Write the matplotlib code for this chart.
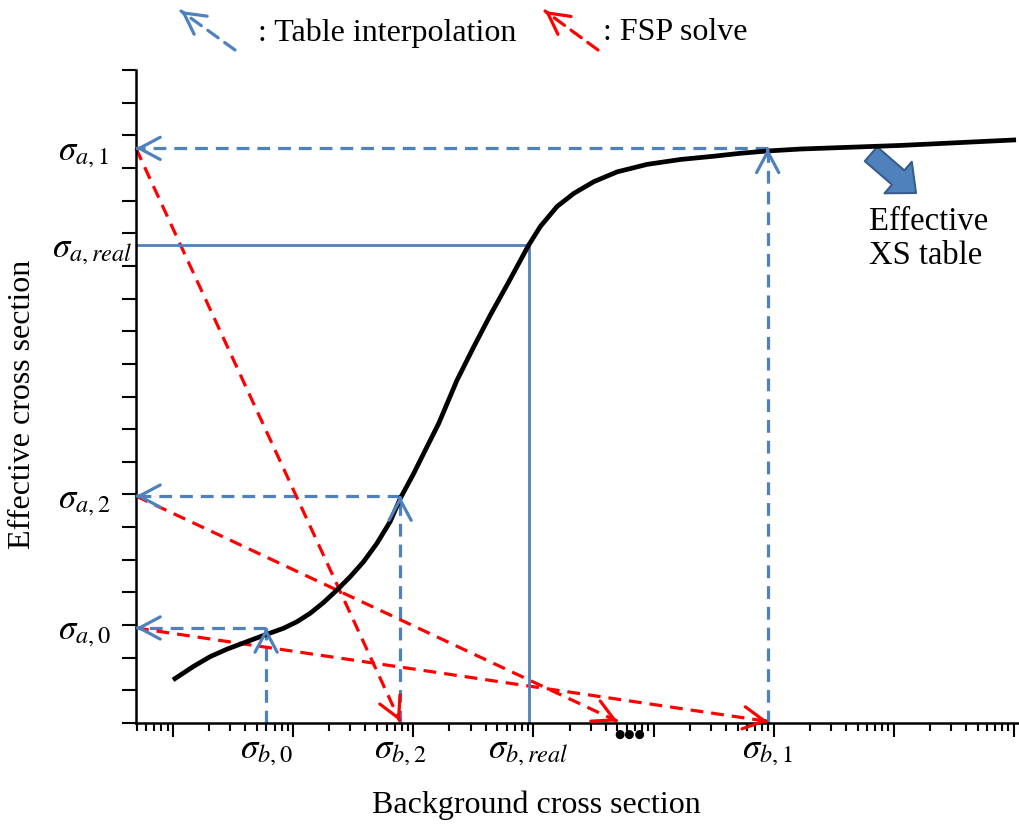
import numpy as np
import matplotlib.pyplot as plt
from matplotlib.ticker import LogLocator, NullFormatter, MultipleLocator

plt.rcParams['font.family'] = ['Liberation Serif', 'DejaVu Serif']
plt.rcParams['mathtext.fontset'] = 'stix'

BLUE = '#4F81BD'
RED = '#FF0000'

# effective XS table: log10(background xs) vs effective xs
curve_logx = [0.0, 0.169, 0.308, 0.448, 0.614, 0.767, 0.919, 1.031, 1.142, 1.253,
              1.364, 1.475, 1.586, 1.697, 1.808, 1.892, 2.003, 2.114, 2.211, 2.364,
              2.503, 2.642, 2.781, 2.961, 3.058, 3.197, 3.336, 3.503, 3.697, 3.947,
              4.225, 4.503, 4.725, 4.95, 5.225, 6.058, 7.017]
curve_y = [1.32, 1.73, 2.03, 2.26, 2.49, 2.70, 2.90, 3.10, 3.36, 3.69,
           4.07, 4.48, 4.94, 5.50, 6.17, 6.88, 7.64, 8.46, 9.17, 10.50,
           11.52, 12.50, 13.42, 14.64, 15.21, 15.82, 16.22, 16.58, 16.88, 17.11,
           17.26, 17.36, 17.45, 17.52, 17.58, 17.69, 17.86]

# background xs points (log10) and their labels
sig_b_logx = [0.775, 1.89, 2.96, 4.95]
sig_b_labels = [r'$\sigma_{b,0}$', r'$\sigma_{b,2}$', r'$\sigma_{b,real}$', r'$\sigma_{b,1}$']
next_b_logx = 3.70   # the "..." step

# effective xs levels and their labels
sig_a_labels = [r'$\sigma_{a,0}$', r'$\sigma_{a,2}$', r'$\sigma_{a,real}$', r'$\sigma_{a,1}$']
sig_a = [2.91, 6.95, 14.64, 17.6]
sig_a_label_px = [58, 58, 52, 58]

xmin, xmax = 10 ** -0.308, 10 ** 7.05

fig = plt.figure(figsize=(10.2, 8.25), dpi=100)
ax = fig.add_axes([136 / 1020, 102 / 825, 884 / 1020, 653 / 825])
ax.set_xscale('log')
ax.set_xlim(xmin, xmax)
ax.set_ylim(0, 20)

for s in ['top', 'right']:
    ax.spines[s].set_visible(False)
for s in ['left', 'bottom']:
    ax.spines[s].set_linewidth(1.8)

ax.xaxis.set_major_locator(LogLocator(base=10, numticks=20))
ax.xaxis.set_minor_locator(LogLocator(base=10, subs=np.arange(2, 10), numticks=20))
ax.xaxis.set_major_formatter(NullFormatter())
ax.xaxis.set_minor_formatter(NullFormatter())
ax.yaxis.set_major_locator(MultipleLocator(1))
ax.yaxis.set_major_formatter(NullFormatter())
ax.tick_params(axis='x', which='major', direction='out', length=10, width=1.5)
ax.tick_params(axis='x', which='minor', direction='out', length=5.5, width=1.5)
ax.tick_params(axis='y', which='major', direction='out', length=10, width=1.5)

ax.plot(10 ** np.array(curve_logx), curve_y, color='black', lw=3.4, zorder=5,
        solid_capstyle='butt', solid_joinstyle='round')

HEAD = '->,head_length=0.75,head_width=0.4'


def arrow_head(x1, y1, x0, y0, color):
    p0 = ax.transData.transform((x0, y0))
    p1 = ax.transData.transform((x1, y1))
    d = (p1 - p0) / np.hypot(*(p1 - p0))
    ax.annotate('', xy=(x1, y1), xytext=(-d[0] * 2, -d[1] * 2),
                textcoords='offset pixels', annotation_clip=False,
                arrowprops=dict(arrowstyle=HEAD, color=color, lw=2.3,
                                shrinkA=0, shrinkB=0, mutation_scale=20), zorder=6)


def dashed_arrow(x0, y0, x1, y1, color):
    ax.plot([x0, x1], [y0, y1], color=color, lw=2.3, dashes=(4, 2.5), clip_on=False)
    arrow_head(x1, y1, x0, y0, color)


# table interpolation steps
for lx, ya in [(0.775, 2.91), (1.89, 6.95), (4.95, 17.6)]:
    xb = 10 ** lx
    dashed_arrow(xb, 0, xb, ya, BLUE)
    dashed_arrow(xb, ya, xmin, ya, BLUE)

# FSP solve steps
fsp_from = [2.91, 17.6, 6.95]
fsp_to = [4.95, 1.89, next_b_logx]
for ya, lx in zip(fsp_from, fsp_to):
    dashed_arrow(xmin, ya, 10 ** lx, 0.05, RED)

# real solution
xr = 10 ** sig_b_logx[2]
ax.plot([xr, xr], [0, sig_a[2]], color=BLUE, lw=2)
ax.plot([xr, xmin], [sig_a[2], sig_a[2]], color=BLUE, lw=2)

# labels
for lab, ya, px in zip(sig_a_labels, sig_a, sig_a_label_px):
    ax.annotate(lab, xy=(px, ya), xycoords=('figure pixels', 'data'), xytext=(0, -5),
                textcoords='offset pixels', ha='left', va='center', fontsize=25,
                annotation_clip=False)
for lab, lx in zip(sig_b_labels, sig_b_logx):
    ax.annotate(lab, xy=(10 ** lx, 0), xycoords=('data', 'axes fraction'),
                xytext=(0, -28), textcoords='offset pixels', ha='center', va='center',
                fontsize=25, annotation_clip=False)
ax.annotate('●●●', xy=(10 ** 3.8, 0), xycoords=('data', 'axes fraction'),
            xytext=(0, -11), textcoords='offset pixels', ha='center', va='center',
            fontsize=8.5, family='DejaVu Sans', annotation_clip=False)

fig.text(536 / 1020, 20 / 825, 'Background cross section', ha='center', va='center',
         fontsize=23)
fig.text(23 / 1020, (825 - 404) / 825, 'Effective cross section', ha='center', va='center',
         rotation=90, fontsize=23)

# "Effective XS table" note with block arrow
ax.annotate('', xy=(916, 825 - 193), xycoords='figure pixels',
            xytext=(871, 825 - 154), textcoords='figure pixels',
            arrowprops=dict(arrowstyle='simple,head_length=0.85,head_width=1.5,tail_width=0.68',
                            fc=BLUE, ec='#385D8A', lw=1.5, mutation_scale=20,
                            shrinkA=0, shrinkB=0))
fig.text(869 / 1020, (825 - 239) / 825, 'Effective\nXS table', ha='left', va='center',
         fontsize=23.5, linespacing=1.15)

# legend
for tail, head, color, text, tx in [((235, 50), (181, 11), BLUE, ': Table interpolation', 258),
                                     ((598, 50), (545, 11), RED, ': FSP solve', 603)]:
    t = (tail[0], 825 - tail[1])
    h = (head[0], 825 - head[1])
    ax.annotate('', xy=h, xycoords='figure pixels', xytext=t, textcoords='figure pixels',
                arrowprops=dict(arrowstyle='-', color=color, lw=2.3,
                                linestyle=(0, (4, 2.5)), shrinkA=0, shrinkB=0))
    d = np.array(h) - np.array(t)
    d = d / np.hypot(*d)
    ax.annotate('', xy=h, xycoords='figure pixels', xytext=(-d[0] * 2, -d[1] * 2),
                textcoords='offset pixels',
                arrowprops=dict(arrowstyle=HEAD, color=color, lw=2.3,
                                shrinkA=0, shrinkB=0, mutation_scale=20))
    fig.text(tx / 1020, (825 - 33) / 825, text, ha='left', va='center', fontsize=23)

fig.savefig('out.png', dpi=100)
